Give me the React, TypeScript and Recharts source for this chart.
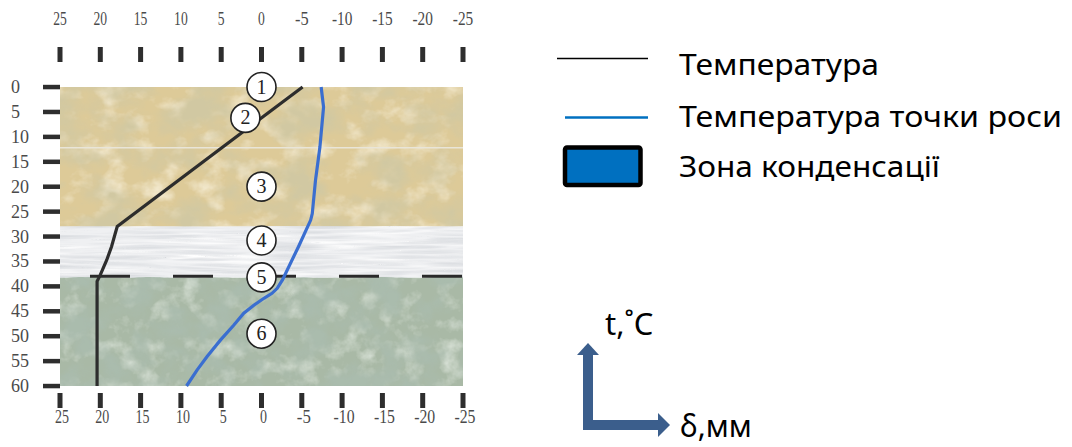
import React from 'react';
import {
  ScatterChart,
  Scatter,
  XAxis,
  YAxis,
  ReferenceArea,
  ReferenceLine,
  Legend,
} from 'recharts';

// temperature axis (reversed: warm side on the left) and wall depth in mm
const TEMP_TICKS = [25, 20, 15, 10, 5, 0, -5, -10, -15, -20, -25];
const DEPTH_TICKS = [0, 5, 10, 15, 20, 25, 30, 35, 40, 45, 50, 55, 60];

// temperature profile through the wall
const TEMP_LINE = [
  { t: -5.1, d: 0 },
  { t: 17.9, d: 28 },
  { t: 18.2, d: 29.7 },
  { t: 18.6, d: 32 },
  { t: 19.2, d: 34.7 },
  { t: 20.0, d: 37.7 },
  { t: 20.4, d: 39 },
  { t: 20.4, d: 60 },
];

// dew point temperature
const DEW_LINE = [
  { t: -7.4, d: 0 },
  { t: -7.7, d: 4 },
  { t: -7.25, d: 12 },
  { t: -6.7, d: 18.7 },
  { t: -6.3, d: 25.4 },
  { t: -6.1, d: 26.7 },
  { t: -4.6, d: 32 },
  { t: -2.6, d: 38.7 },
  { t: -1.95, d: 40.4 },
  { t: -1.3, d: 41.4 },
  { t: -0.3, d: 42.4 },
  { t: 0.95, d: 43.8 },
  { t: 2.2, d: 45.4 },
  { t: 3.45, d: 47.8 },
  { t: 5.1, d: 50.8 },
  { t: 6.75, d: 54.1 },
  { t: 8.0, d: 56.8 },
  { t: 9.3, d: 60 },
];

// numbered layer markers
const MARKERS = [
  { t: 0, d: 0, n: '1' },
  { t: 2, d: 6.2, n: '2' },
  { t: 0, d: 20, n: '3' },
  { t: 0, d: 30.8, n: '4' },
  { t: 0, d: 38.2, n: '5' },
  { t: 0, d: 49.5, n: '6' },
];

// wall layers: [from, to] depth
const LAYER_BOUNDS = [0, 28, 38.3, 60];
const CONDENSATION_LINE = 38;

const LEGEND_LABELS = ['Температура', 'Температура точки роси', 'Зона конденсації'];
const AXIS_LABELS = ['t,˚C', 'δ,мм'];

const SERIF = '"Liberation Serif", "DejaVu Serif", "Times New Roman", serif';
const SANS = '"Noto Sans", "Open Sans", sans-serif';
const TICK_COLOR = '#4a4a4a';

const serifStyle = (size: number) => ({ fontFamily: SERIF, fontSize: size });

const TopTick = (props: any) => {
  const { x, payload } = props;
  const s = String(payload.value);
  return (
    <g>
      <text x={x} y={25} textAnchor="middle" style={serifStyle(18)} fill={TICK_COLOR}
        textLength={s.length * 6.8} lengthAdjust="spacingAndGlyphs">{s}</text>
      <rect x={x - 2.5} y={47} width={5} height={15} fill="#2e2e2e" />
    </g>
  );
};

const BottomTick = (props: any) => {
  const { x, payload } = props;
  const s = String(payload.value);
  return (
    <g>
      <rect x={x - 2.5} y={393} width={5} height={15} fill="#2e2e2e" />
      <text x={x + 2} y={423} textAnchor="middle" style={serifStyle(18)} fill={TICK_COLOR}
        textLength={s.length * 7} lengthAdjust="spacingAndGlyphs">{s}</text>
    </g>
  );
};

const LeftTick = (props: any) => {
  const { y, payload } = props;
  return (
    <g>
      <text x={11} y={y + 6} textAnchor="start" style={serifStyle(18)} fill={TICK_COLOR}>
        {payload.value}
      </text>
      <rect x={43} y={y - 2.2} width={17} height={4.5} fill="#2e2e2e" />
    </g>
  );
};

const noiseMatrix = (c: number[]) =>
  `0 0 0 0 ${c[0]}  0 0 0 0 ${c[1]}  0 0 0 0 ${c[2]}  ${c[3]} 0 0 0 ${c[4]}`;

// textured layer fill, made with svg noise
const layerShape = (id: string, base: string, cfg: any) => (props: any) => {
  const { x, y, width, height } = props;
  return (
    <g>
      <defs>
        <filter id={id} x="0" y="0" width="1" height="1">
          <feTurbulence type={cfg.type} baseFrequency={cfg.freq} numOctaves={cfg.oct} seed={cfg.seed} result="n1" />
          <feColorMatrix in="n1" type="matrix" values={noiseMatrix(cfg.dark)} result="dark" />
          <feTurbulence type={cfg.type} baseFrequency={cfg.freq2 || cfg.freq} numOctaves={cfg.oct} seed={cfg.seed + 17} result="n2" />
          <feColorMatrix in="n2" type="matrix" values={noiseMatrix(cfg.light)} result="light" />
          <feMerge>
            <feMergeNode in="light" />
            <feMergeNode in="dark" />
          </feMerge>
        </filter>
      </defs>
      <rect x={x} y={y} width={width} height={height} fill={base} />
      <rect x={x} y={y} width={width} height={height} fill="#000" filter={`url(#${id})`} />
    </g>
  );
};

const SandShape = layerShape('texSand', '#ddca98', {
  type: 'fractalNoise', freq: '0.022 0.03', freq2: '0.04 0.05', oct: 4, seed: 3,
  dark: [0.64, 0.58, 0.36, 3.0, -1.2],
  light: [0.94, 0.88, 0.72, 2.0, -0.95],
});

const InsulShape = layerShape('texInsul', '#eff0f2', {
  type: 'turbulence', freq: '0.012 0.2', oct: 2, seed: 5,
  dark: [0.68, 0.7, 0.73, 1.6, -0.2],
  light: [1, 1, 1, 2, -0.4],
});

const StoneShape = layerShape('texStone', '#a9b9a6', {
  type: 'fractalNoise', freq: '0.03 0.035', freq2: '0.05 0.05', oct: 4, seed: 9,
  dark: [0.4, 0.5, 0.42, 3.0, -1.2],
  light: [0.76, 0.82, 0.75, 2.0, -0.95],
});

const MarkerShape = (props: any) => {
  const { cx, cy, payload } = props;
  return (
    <g>
      <circle cx={cx} cy={cy} r={14.5} fill="#fff" stroke="#222" strokeWidth={1.6} />
      <text x={cx} y={cy + 6.5} textAnchor="middle" style={serifStyle(20)} fill="#222">
        {payload.n}
      </text>
    </g>
  );
};

const Blank = () => <g />;

const legendText = { fontFamily: SANS, fontSize: 29 };

const LegendBlock = () => (
  <svg width={1072} height={447} style={{ position: 'absolute', left: 0, top: 0, pointerEvents: 'none' }}>
    <line x1={557} y1={58.5} x2={648} y2={58.5} stroke="#000" strokeWidth={1.6} />
    <text x={679} y={75} style={legendText} fill="#000" textLength={200} lengthAdjust="spacingAndGlyphs">{LEGEND_LABELS[0]}</text>
    <line x1={565} y1={117.5} x2={648} y2={117.5} stroke="#0070c0" strokeWidth={2.5} />
    <text x={679} y={127} style={legendText} fill="#000" textLength={383} lengthAdjust="spacingAndGlyphs">{LEGEND_LABELS[1]}</text>
    <rect x={565} y={147.5} width={75.5} height={37.5} rx={2} fill="#0070c0" stroke="#000" strokeWidth={4.5} />
    <text x={679} y={177} style={legendText} fill="#000" textLength={261} lengthAdjust="spacingAndGlyphs">{LEGEND_LABELS[2]}</text>

    {/* axes hint */}
    <rect x={583} y={354} width={10} height={76} fill="#3b5e8c" />
    <polygon points="577,355 599,355 588,343" fill="#3b5e8c" />
    <rect x={583} y={420} width={76} height={10} fill="#3b5e8c" />
    <polygon points="658,413 658,437 670,425" fill="#3b5e8c" />
    <text x={605} y={335} style={{ fontFamily: SANS, fontSize: 31 }} fill="#000">{AXIS_LABELS[0]}</text>
    <text x={680} y={437} style={{ fontFamily: SANS, fontSize: 30 }} fill="#000">{AXIS_LABELS[1]}</text>
  </svg>
);

export default function App() {
  return (
    <div style={{ position: 'absolute', left: 0, top: 0, width: 1072, height: 447, background: '#fff' }}>
      <ScatterChart width={1072} height={447} margin={{ top: 0, right: 609, bottom: 0, left: 0 }}>
        {/* top axis has no series of its own, so it needs the fixed domain to be forced */}
        <XAxis
          xAxisId="top"
          orientation="top"
          type="number"
          dataKey="t"
          domain={[-25, 25]}
          allowDataOverflow
          reversed
          ticks={TEMP_TICKS}
          interval={0}
          height={87}
          tick={TopTick}
          tickLine={false}
          axisLine={false}
        />
        <XAxis
          orientation="bottom"
          type="number"
          dataKey="t"
          domain={[-25, 25]}
          reversed
          ticks={TEMP_TICKS}
          interval={0}
          height={61}
          tick={BottomTick}
          tickLine={false}
          axisLine={false}
        />
        <YAxis
          type="number"
          dataKey="d"
          domain={[0, 60]}
          reversed
          ticks={DEPTH_TICKS}
          interval={0}
          width={60}
          tick={LeftTick}
          tickLine={false}
          axisLine={false}
        />

        <ReferenceArea x1={25} x2={-25} y1={LAYER_BOUNDS[0]} y2={LAYER_BOUNDS[1]} shape={SandShape} ifOverflow="visible" />
        <ReferenceArea x1={25} x2={-25} y1={LAYER_BOUNDS[1]} y2={LAYER_BOUNDS[2]} shape={InsulShape} ifOverflow="visible" />
        <ReferenceArea x1={25} x2={-25} y1={LAYER_BOUNDS[2]} y2={LAYER_BOUNDS[3]} shape={StoneShape} ifOverflow="visible" />
        <ReferenceLine y={12.2} stroke="#e9e5d8" strokeWidth={1.5} />
        <ReferenceLine
          y={CONDENSATION_LINE}
          stroke="#2a2a2a"
          strokeWidth={3}
          strokeDasharray="40 43"
          strokeDashoffset={53}
        />

        <Scatter
          name="temp"
          data={TEMP_LINE}
          line={{ stroke: '#2d2d2d', strokeWidth: 3.2 }}
          shape={Blank}
          legendType="none"
          isAnimationActive={false}
        />
        <Scatter
          name="dew"
          data={DEW_LINE}
          line={{ stroke: '#3a6ed0', strokeWidth: 3.2 }}
          shape={Blank}
          legendType="none"
          isAnimationActive={false}
        />
        <Scatter name="markers" data={MARKERS} shape={MarkerShape} legendType="none" isAnimationActive={false} />

        <Legend
          layout="horizontal"
          align="center"
          verticalAlign="middle"
          content={LegendBlock}
          wrapperStyle={{ left: 0, top: 0, width: 1072, height: 447, pointerEvents: 'none' }}
        />
      </ScatterChart>
    </div>
  );
}
